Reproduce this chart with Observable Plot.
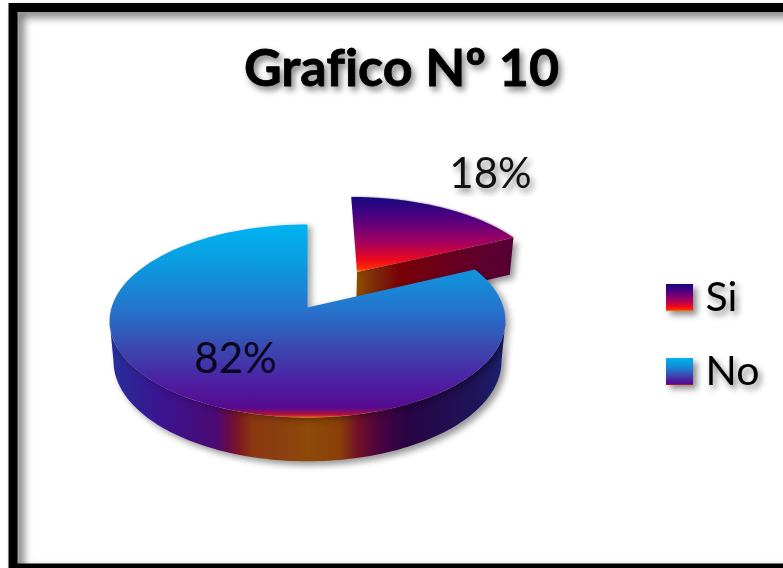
<!DOCTYPE html>
<html lang="es">
<head>
<meta charset="utf-8">
<title>Grafico Nº 10</title>
<script src="https://cdn.jsdelivr.net/npm/d3@7"></script>
<script src="https://cdn.jsdelivr.net/npm/@observablehq/plot@0.6"></script>
<style>
  html, body { margin: 0; padding: 0; background: #fff; overflow: hidden; }
  svg { display: block; }
  svg text { font-variant-ligatures: none; }
</style>
</head>
<body>
<div id="chart"></div>
<script>
// Survey answers, in percent
const categories = ["Si", "No"];
const shares = [18, 82];
const chartTitle = "Grafico Nº 10";

// Colour ramps of the slices: [offset, colour]
const siTopStops = [[0, "#14087f"], [0.3, "#55007f"], [0.6, "#a30060"], [0.85, "#f00a1a"], [0.96, "#ff3000"], [1, "#ff9000"]];
const noTopStops = [[0, "#00b4f2"], [0.2, "#0a9ce0"], [0.45, "#2672cc"], [0.65, "#3c46ae"], [0.82, "#4e1ea2"], [0.95, "#560a90"], [0.985, "#b01040"], [1, "#ff6000"]];
const noSideStops = [[0, "#26309a"], [0.13, "#3a1490"], [0.27, "#4c0a72"], [0.3, "#660a48"], [0.33, "#801a20"], [0.36, "#8a3810"], [0.44, "#8c4010"], [0.5, "#8e4a08"], [0.58, "#8a4008"], [0.63, "#700f28"], [0.68, "#4a0440"], [0.75, "#280444"], [0.92, "#1e1458"], [1, "#1c2070"]];
const siSideStops = [[0, "#8a5000"], [0.12, "#7e2a08"], [0.28, "#780006"], [0.65, "#660024"], [1, "#540036"]];

// Camera of the tilted disc
const tilt = 0.14, lift = 0.02, thickness = 0.43, pull = 0.47, pullSide = 0.015;
const centerX = 307, centerY = 307, unitX = 196, unitY = 94.6;
const W = 783, H = 568;
const ux = (px) => (px - centerX) / unitX;
const uy = (py) => (centerY - py) / unitY;

// Project a point of the disc plane (u, v), at depth z, onto the chart plane
function project(u, v, z = 0) {
  const w = 1 + tilt * v + lift * z;
  return {X: u / w, Y: (v - thickness * z) / w};
}

// Angular extent of each slice, clockwise from the top
const total = d3.sum(shares);
let turn = 0;
const slices = categories.map((name, i) => {
  const a0 = turn * 2 * Math.PI;
  turn += shares[i] / total;
  return {name, value: shares[i], a0, a1: turn * 2 * Math.PI, shift: i === 0 ? pull : 0, side: i === 0 ? pullSide : 0};
});
const [si, no] = slices;

function offset(s) {
  const mid = (s.a0 + s.a1) / 2;
  return [s.side + s.shift * Math.sin(mid), s.shift * Math.cos(mid)];
}
function rimPoint(s, a, z) {
  const [ox, oy] = offset(s);
  return project(ox + Math.sin(a), oy + Math.cos(a), z);
}
function apex(s, z) {
  const [ox, oy] = offset(s);
  return project(ox, oy, z);
}
const sweep = (s, from, to, z) => d3.range(0, 121).map((k) => rimPoint(s, from + (to - from) * k / 120, z));

// Top face of a slice: centre, then the outer arc
const topFace = (s) => [apex(s, 0), ...sweep(s, s.a0, s.a1, 0)];

// Outer wall of the large slice, between the two points where the rim turns back
const wallFrom = Math.PI / 2 + 0.14, wallTo = 3 * Math.PI / 2 - 0.14;
const noWall = [...sweep(no, wallFrom, wallTo, 0), ...sweep(no, wallFrom, wallTo, 1).reverse()];

// Cut wall of the pulled slice, from its centre to the rim corner
const siWall = [apex(si, 0), rimPoint(si, si.a1, 0), rimPoint(si, si.a1, 1), apex(si, 1)];

// Shared gradient definitions
function gradients() {
  const defs = d3.create("svg:defs");
  const add = (id, stops, horizontal) => {
    const g = defs.append("linearGradient").attr("id", id)
      .attr("x1", 0).attr("y1", 0)
      .attr("x2", horizontal ? 1 : 0).attr("y2", horizontal ? 0 : 1);
    stops.forEach(([o, c]) => g.append("stop").attr("offset", o).attr("stop-color", c));
  };
  add("si-top", siTopStops, false);
  add("no-top", noTopStops, false);
  add("no-side", noSideStops, true);
  add("si-side", siSideStops, true);
  return defs.node();
}

const softShadow = "drop-shadow(4px 4px 3px rgba(0,0,0,.4))";
const textShadow = "drop-shadow(3px 4px 3px rgba(0,0,0,.5))";
const face = (points, fill, extra = {}) =>
  Plot.line(points, {x: "X", y: "Y", fill, stroke: "none", curve: "linear", ...extra});

// Legend rows
const legendRows = categories.map((name, i) => ({
  name,
  top: [284, 358][i],
  fill: i === 0 ? "url(#si-top)" : "url(#no-top)"
}));

const chart = Plot.plot({
  width: W,
  height: H,
  margin: 0,
  style: {background: "#fff", overflow: "hidden"},
  x: {axis: null, domain: [ux(0), ux(W)], range: [0, W]},
  y: {axis: null, domain: [uy(H), uy(0)], range: [H, 0]},
  marks: [
    gradients,
    // Outer frame with its inner shade
    Plot.frame({stroke: "#000", strokeWidth: 9, insetLeft: 12.5, insetTop: 7, insetBottom: 0.5, insetRight: -30,
      imageFilter: "drop-shadow(6px 5px 4px rgba(0,0,0,.55))"}),
    // Pulled slice, behind the large one
    face(siWall, "url(#si-side)", {imageFilter: softShadow}),
    face(topFace(si), "url(#si-top)", {imageFilter: "drop-shadow(1px 0 1px rgba(60,0,60,.5))"}),
    // Large slice
    face(noWall, "url(#no-side)", {imageFilter: softShadow}),
    face(topFace(no), "url(#no-top)", {imageFilter: "drop-shadow(4px 2px 3px rgba(0,0,0,.35))"}),
    // Value labels
    Plot.text([si], {
      x: () => ux(490), y: () => uy(174), text: (d) => `${d.value}%`,
      fontFamily: "Lato, Carlito, sans-serif", fontSize: 42, fill: "#111", imageFilter: textShadow
    }),
    Plot.text([no], {
      x: () => ux(235), y: () => uy(359), text: (d) => `${d.value}%`,
      fontFamily: "Lato, Carlito, sans-serif", fontSize: 42, fill: "#0a0520"
    }),
    // Heading
    Plot.text([chartTitle], {
      x: () => ux(401), y: () => uy(69), text: (d) => d,
      fontFamily: "Lato, Carlito, sans-serif", fontWeight: 700, fontSize: 52, fill: "#000",
      stroke: "#000", strokeWidth: 0.8, imageFilter: textShadow
    }),
    // Legend
    ...legendRows.map((row) => Plot.rect([row], {
      x1: () => ux(666), x2: () => ux(693), y1: (d) => uy(d.top), y2: (d) => uy(d.top + 27),
      fill: row.fill, stroke: "none", imageFilter: "drop-shadow(4px 4px 3px rgba(0,0,0,.45))"
    })),
    Plot.text(legendRows, {
      x: () => ux(705), y: (d) => uy(d.top + 13), text: "name", textAnchor: "start",
      fontFamily: "Lato, Carlito, sans-serif", fontSize: 41, fill: "#000", imageFilter: textShadow
    })
  ]
});

document.getElementById("chart").append(chart);
</script>
</body>
</html>
